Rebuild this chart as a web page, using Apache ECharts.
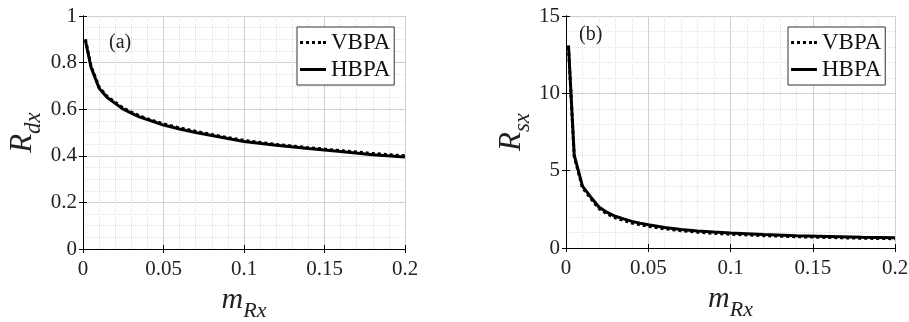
<!DOCTYPE html>
<html><head><meta charset="utf-8">
<script src="https://cdn.jsdelivr.net/npm/echarts@6/dist/echarts.min.js"></script>
<style>html,body{margin:0;padding:0;background:#fff;}#c{width:909px;height:322px;}</style>
</head><body><div id="c"></div>
<script>
// ---- data ----
const mRx = [0.0015, 0.005, 0.01, 0.015, 0.02, 0.025, 0.03, 0.035, 0.04, 0.045, 0.05, 0.06, 0.07, 0.08, 0.09, 0.1, 0.12, 0.14, 0.16, 0.18, 0.2];
const rdxVBPA = [0.9, 0.785, 0.695, 0.655, 0.63, 0.605, 0.588, 0.572, 0.559, 0.548, 0.537, 0.52, 0.505, 0.491, 0.478, 0.466, 0.449, 0.435, 0.422, 0.41, 0.4];
const rdxHBPA = [0.895, 0.78, 0.69, 0.65, 0.625, 0.6, 0.583, 0.567, 0.555, 0.544, 0.532, 0.515, 0.5, 0.487, 0.474, 0.461, 0.445, 0.431, 0.418, 0.405, 0.395];
const rsxVBPA = [13.0, 5.9, 3.9, 3.2, 2.55, 2.2, 1.95, 1.78, 1.62, 1.5, 1.4, 1.24, 1.12, 1.02, 0.95, 0.89, 0.8, 0.73, 0.68, 0.63, 0.6];
const rsxHBPA = [13.1, 6.0, 4.0, 3.3, 2.65, 2.3, 2.05, 1.88, 1.72, 1.6, 1.5, 1.33, 1.2, 1.1, 1.03, 0.97, 0.88, 0.8, 0.75, 0.7, 0.67];
const seriesNames = ['VBPA', 'HBPA'];
const panelLabels = ['(a)', '(b)'];

const FF = 'Liberation Serif';
const pair = (xs, ys) => xs.map((x, i) => [x, ys[i]]);

function xAxes(gi) {
  const base = {
    type: 'value', gridIndex: gi, min: 0, max: 0.2, interval: 0.05,
    axisLine: {show: true, lineStyle: {color: '#000', width: 1}},
    axisTick: {show: true, inside: true, length: 4, lineStyle: {color: '#000'}},
    minorTick: {show: false, splitNumber: 5},
  };
  return [
    Object.assign({}, base, {
      position: 'bottom',
      axisLabel: {fontFamily: FF, fontSize: 21, color: '#222', margin: 10},
      splitLine: {show: true, lineStyle: {color: '#d0d0d0', width: 1}},
      minorSplitLine: {show: true, lineStyle: {color: '#e2e2e2', type: 'dotted', width: 1}},
      name: '{m|m}{s|Rx}', nameLocation: 'middle', nameGap: 25,
      nameTextStyle: {rich: {
        m: {fontFamily: FF, fontStyle: 'italic', fontSize: 30, color: '#222'},
        s: {fontFamily: FF, fontStyle: 'italic', fontSize: 22, color: '#222', padding: [22, 0, 0, 0]}
      }}
    }),
    Object.assign({}, base, {
      position: 'top', axisLabel: {show: false}, splitLine: {show: false}
    })
  ];
}
function yAxes(gi, max, interval, minorN, sub, gap) {
  const base = {
    type: 'value', gridIndex: gi, min: 0, max: max, interval: interval,
    axisLine: {show: true, lineStyle: {color: '#000', width: 1}},
    axisTick: {show: true, inside: true, length: 4, lineStyle: {color: '#000'}},
    minorTick: {show: false, splitNumber: minorN},
  };
  return [
    Object.assign({}, base, {
      position: 'left',
      axisLabel: {fontFamily: FF, fontSize: 21, color: '#222', margin: 6},
      splitLine: {show: true, lineStyle: {color: '#d0d0d0', width: 1}},
      minorSplitLine: {show: true, lineStyle: {color: '#e2e2e2', type: 'dotted', width: 1}},
      name: '{r|R}{s|' + sub + '}', nameLocation: 'middle', nameGap: gap, nameRotate: 90,
      nameTextStyle: {rich: {
        r: {fontFamily: FF, fontStyle: 'italic', fontSize: 31, color: '#222'},
        s: {fontFamily: FF, fontStyle: 'italic', fontSize: 23, color: '#222', padding: [22, 0, 0, 0]}
      }}
    }),
    Object.assign({}, base, {
      position: 'right', axisLabel: {show: false}, splitLine: {show: false}
    })
  ];
}

function lineSeries(name, gi, data, dotted) {
  return {
    name: name, type: 'line', xAxisIndex: gi * 2, yAxisIndex: gi * 2,
    data: data, showSymbol: false, symbol: 'none', z: dotted ? 3 : 2,
    lineStyle: {color: '#000', width: 3, type: dotted ? [3, 3] : 'solid'},
    itemStyle: {color: '#000'}
  };
}
const ICON_DOT = 'path://M0,0h3v3h-3zM6,0h3v3h-3zM12,0h3v3h-3zM18,0h3v3h-3zM23,0h3v3h-3z';
const ICON_SOLID = 'path://M0,0h26v3h-26z';
function legendAt(left) {
  return {
    data: [{name: seriesNames[0], icon: ICON_DOT}, {name: seriesNames[1], icon: ICON_SOLID}],
    orient: 'vertical', left: left, top: 27,
    backgroundColor: '#fff', borderColor: '#333', borderWidth: 1,
    padding: [4, 4, 4, 3], itemGap: 4, itemWidth: 26, itemHeight: 3, itemTextGap: 0,
    itemStyle: {color: '#000', borderWidth: 0},
    textStyle: {fontFamily: FF, fontSize: 23, color: '#111', lineHeight: 23}
  };
}

const chart = echarts.init(document.getElementById('c'), null, {renderer: 'canvas'});
chart.setOption({
  animation: false,
  backgroundColor: '#fff',
  title: [
    {text: panelLabels[0], left: 109, top: 33, padding: 0, textStyle: {fontFamily: FF, fontSize: 20, fontWeight: 'normal', color: '#222'}},
    {text: panelLabels[1], left: 579, top: 25, padding: 0, textStyle: {fontFamily: FF, fontSize: 20, fontWeight: 'normal', color: '#222'}}
  ],
  grid: [
    {left: 83, top: 16, width: 322, height: 233, containLabel: false, outerBoundsMode: 'none'},
    {left: 566, top: 16, width: 329, height: 232, containLabel: false, outerBoundsMode: 'none'}
  ],
  xAxis: [...xAxes(0), ...xAxes(1)],
  yAxis: [...yAxes(0, 1, 0.2, 4, 'dx', 38), ...yAxes(1, 15, 5, 5, 'sx', 32)],
  legend: [legendAt(297), legendAt(788)],
  series: [
    lineSeries('HBPA', 0, pair(mRx, rdxHBPA), false),
    lineSeries('VBPA', 0, pair(mRx, rdxVBPA), true),
    lineSeries('HBPA', 1, pair(mRx, rsxHBPA), false),
    lineSeries('VBPA', 1, pair(mRx, rsxVBPA), true)
  ]
});
</script></body></html>
